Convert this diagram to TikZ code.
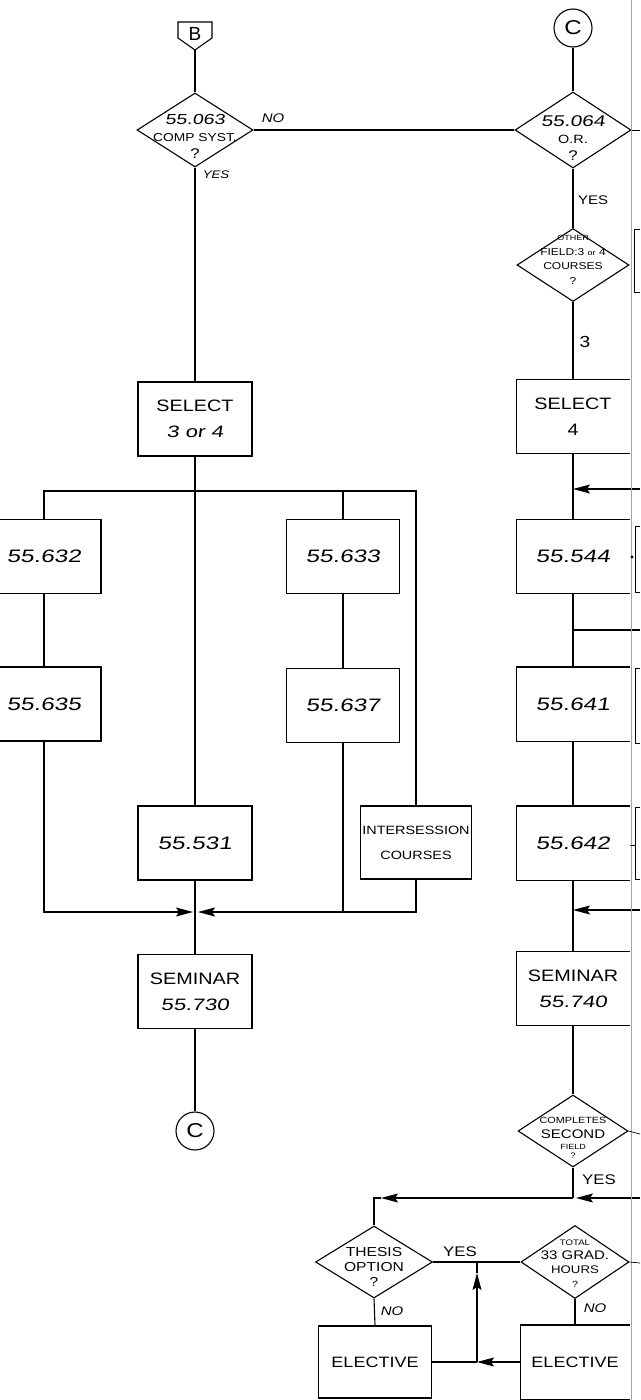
\documentclass[tikz,border=0pt]{standalone}
\usepackage{fontspec}
\setmainfont{Liberation Sans}
\newfontfamily\hand[FakeStretch=1.2]{Liberation Sans}
\newfontfamily\numf[FakeStretch=1.35,FakeSlant=0.15]{Liberation Sans}
\usetikzlibrary{shapes.geometric,arrows.meta}
\newcommand\fs[2]{\fontsize{#1}{#2}\selectfont}
\begin{document}
\begin{tikzpicture}[x=1pt,y=-1pt,line width=1.1pt,
  box/.style={draw,rectangle,minimum width=114pt,minimum height=74pt,inner sep=0pt,align=center,font=\fs{16.5}{26}},
  obox/.style={rectangle,minimum width=112pt,minimum height=73pt,inner sep=0pt,align=center,font=\fs{16.5}{26}},
  dia/.style={draw,diamond,inner sep=0pt},
  dtxt/.style={inner sep=0pt,align=center},
  lab/.style={inner sep=0pt,font=\hand\itshape\fs{12.5}{14}},
  ulab/.style={inner sep=0pt,font=\hand\fs{12}{14}},
  arr/.style={-{Stealth[length=17pt,width=9pt,inset=3pt]}},
  conn/.style={draw,circle,minimum size=38pt,inner sep=0pt,font=\hand\fs{20}{22}},
  frag/.style={line width=0.7pt},
]
\useasboundingbox (0,0) rectangle (640,1400);

% ---------------- left column ----------------
\node[inner sep=0pt,font=\fs{19}{20}] (B) at (195,34) {B};
\draw (178,22) -- (212,22) -- (212,38) -- (195,50) -- (178,38) -- cycle;
\coordinate (Bp) at (195,50);

\node[dia,minimum width=116pt,minimum height=74pt] (d1) at (195,130) {};
\node[dtxt,font=\hand\fs{11.5}{17}] (d1t) at (195,136) {{\numf\fs{14.5}{17}55.063}\\COMP SYST.\\{\fs{14}{17}?}};

\node[box] (sel1) at (195,419) {{\hand SELECT}\\{\numf 3 or 4}};
\node[box] (b632) at (44,556.5) {\numf\fs{18}{20}55.632};
\node[box] (b635) at (44,704) {\numf\fs{18}{20}55.635};
\node[box,minimum width=113pt] (b633) at (343,556.5) {\numf\fs{18}{20}55.633};
\node[box,minimum width=113pt] (b637) at (343,705.5) {\numf\fs{18}{20}55.637};
\node[box] (b531) at (195,843) {\numf\fs{18}{20}55.531};
\node[box,minimum width=111pt,minimum height=73pt,font=\hand\fs{12}{25}] (binter) at (416,842.5) {INTERSESSION\\COURSES};
\node[box] (sem1) at (195,991.5) {{\hand SEMINAR}\\{\numf 55.730}};
\node[conn] (C1) at (195,1131) {C};

\coordinate (bus) at (0,491);
\coordinate (J1) at (195,912);

\draw (Bp) -- (d1.north);
\draw (d1.south) -- (sel1.north);
\draw (sel1.south) -- (b531.north);
\draw (b632.north) -- (b632.north |- bus) -- (binter.north |- bus) -- (binter.north);
\draw (b633.north) -- (b633.north |- bus);
\draw (b632.south) -- (b635.north);
\draw (b633.south) -- (b637.north);
\draw[arr] (b635.south) -- (b635.south |- J1) -- ([xshift=-2pt]J1);
\draw[arr] (binter.south) -- (binter.south |- J1) -- ([xshift=3pt]J1);
\draw (b637.south) -- (b637.south |- J1);
\draw (b531.south) -- (sem1.north);
\draw (sem1.south) -- (C1.north);

\node[lab] (no1) at (273,118) {NO};
\node[lab,font=\hand\itshape\fs{11}{12}] (yes1) at (216,175) {YES};

% ---------------- right column ----------------
\node[conn] (C2) at (573,28) {C};
\node[dia,minimum width=116pt,minimum height=76pt] (d2) at (573,130) {};
\node[dtxt,font=\hand\fs{12}{17}] (d2t) at (573,138) {{\numf\fs{15.5}{17}55.064}\\O.R.\\{\fs{14}{17}?}};
\node[dia,minimum width=112pt,minimum height=73pt] (d3) at (573,265) {};
\node[dtxt,font=\hand\fs{10}{14.5}] (d3t) at (573,260) {{\fs{7.5}{8}OTHER}\\FIELD:3 {\fs{7.5}{8}or} 4\\COURSES\\?};

\node[obox] (sel2) at (573,416.5) {{\hand SELECT}\\{\hand 4}};
\node[obox] (b544) at (573,556.5) {\numf\fs{18}{20}55.544};
\node[obox] (b641) at (573,704) {\numf\fs{18}{20}55.641};
\node[obox] (b642) at (573,843) {\numf\fs{18}{20}55.642};
\node[obox] (sem2) at (573,988.5) {{\hand SEMINAR}\\{\numf 55.740}};
\foreach \n in {sel2,b544,b641,b642,sem2}
  \draw (\n.north east) -- (\n.north west) -- (\n.south west) -- (\n.south east);

\node[dia,minimum width=110pt,minimum height=72pt] (d4) at (573,1131) {};
\node[dtxt,font=\hand\fs{12.5}{15}] (d4t) at (573,1138) {{\fs{9}{10}COMPLETES}\\SECOND\\[-4pt]{\fs{7.5}{8}FIELD}\\[-6pt]{\fs{8}{8}?}};

\node[dia,minimum width=117pt,minimum height=72pt] (d5) at (374,1262) {};
\node[dtxt,font=\hand\fs{13}{15}] (d5t) at (374,1267) {THESIS\\OPTION\\?};
\node[dia,minimum width=108pt,minimum height=73pt] (d6) at (575,1262) {};
\node[dtxt,font=\hand\fs{11}{14}] (d6t) at (575,1264) {{\fs{8}{8}TOTAL}\\{\fs{12.5}{14}33 GRAD.}\\HOURS\\{\fs{9}{10}?}};

\node[box,minimum width=113pt,minimum height=72pt,font=\hand\fs{15}{18}] (E1) at (375,1362) {ELECTIVE};
\node[obox,minimum width=108pt,font=\hand\fs{15}{18}] (E2) at (575,1362) {ELECTIVE};
\draw (E2.north east) -- (E2.north west) -- (E2.south west) -- (E2.south east);

\coordinate (J2) at (573,1198);
\coordinate (K) at (374,1198);
\coordinate (Ka) at (381,1198);
\coordinate (J3) at (477,1362);
\coordinate (Jt) at (477,1273);
\coordinate (Jtop) at (477,1262);
\coordinate (R1) at (640,489);
\coordinate (R2) at (640,630);
\coordinate (R3) at (640,910);
\coordinate (R4) at (640,1198);

\draw (d1.east) -- (d2.west);
\draw (C2.south) -- (d2.north);
\draw (d2.south) -- (d3.north);
\draw (d3.south) -- (sel2.north);
\draw (sel2.south) -- (b544.north);
\draw (b544.south) -- (b641.north);
\draw (b641.south) -- (b642.north);
\draw (b642.south) -- (sem2.north);
\draw (sem2.south) -- (d4.north);
\draw (d4.south) -- (J2);
\draw[arr] (R1) -- (sel2.south |- R1);
\draw (R2) -- (b544.south |- R2);
\draw[arr] (R3) -- (b642.south |- R3);
\draw[arr] (R4) -- ([xshift=3pt]J2);
\draw[arr] (J2) -- (Ka);
\draw (Ka) -- (K) -- (d5.north);
\draw (d5.east) -- (d6.west);
\draw (d5.south) -- (E1.north);
\draw (d6.south) -- (E2.north);
\draw[arr] (E2.west) -- (J3);
\draw (J3) -- (E1.east);
\draw[arr] (J3) -- (Jt);
\draw (Jt) -- (Jtop);

\node[ulab,font=\hand\fs{12.5}{14}] (yes2) at (593,200) {YES};
\node[ulab,font=\hand\fs{16}{18}] (three) at (585,342) {3};
\node[ulab,font=\hand\fs{14}{16}] (yes4) at (599,1180) {YES};
\node[ulab,font=\hand\fs{14}{16}] (yes5) at (460,1252) {YES};
\node[lab] (no5) at (392,1311) {NO};
\node[lab] (no6) at (595,1308) {NO};

% ---------------- fragments at the cut edge ----------------
\draw[line width=0.5pt,black!35] (631,0) -- (631,1400);
\draw[frag] (d2.east) -- (640,130);
\draw[frag] (d4.east) -- (640,1134);
\draw[frag] (d6.east) -- (640,1263);
\draw[frag] (640,229) -- (634,229) -- (634,292) -- (640,292);
\draw[frag] (640,526) -- (635,526) -- (635,592) -- (640,592);
\draw[frag] (640,668) -- (635,668) -- (635,743) -- (640,743);
\draw[frag] (640,807) -- (635,807) -- (635,879) -- (640,879);
\fill (632,557) circle (1.6pt);
\draw[frag] (630,845) -- (636,845);
\end{tikzpicture}
\end{document}
